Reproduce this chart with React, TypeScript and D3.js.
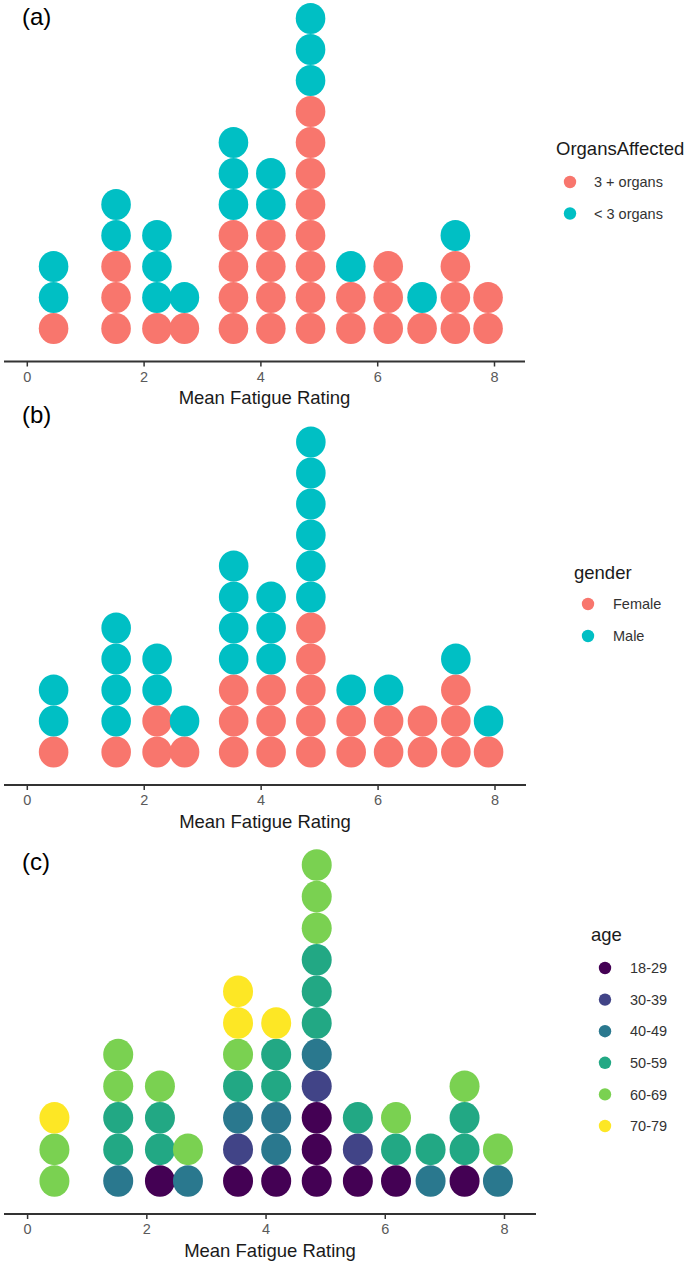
import React from "react";
import * as d3 from "d3";

// ---- data ----
const fatigueBins = [0.45, 1.52, 2.22, 2.69, 3.53, 4.17, 4.85, 5.54, 6.18, 6.76, 7.33, 7.89];
const xTicks = [0, 2, 4, 6, 8];

const organsLevels = ["3 + organs", "< 3 organs"];
const organs3Plus = [1, 3, 1, 1, 4, 4, 8, 2, 3, 1, 3, 2];
const organsUnder3 = [2, 2, 3, 1, 3, 2, 3, 1, 0, 1, 1, 0];

const genderLevels = ["Female", "Male"];
const genderFemale = [1, 1, 2, 1, 3, 3, 5, 2, 2, 2, 3, 1];
const genderMale = [2, 4, 2, 1, 4, 3, 6, 1, 1, 0, 1, 1];

const ageLevels = ["18-29", "30-39", "40-49", "50-59", "60-69", "70-79"];
const age18_29 = [0, 0, 1, 0, 1, 1, 3, 1, 1, 0, 1, 0];
const age30_39 = [0, 0, 0, 0, 1, 0, 1, 1, 0, 0, 0, 0];
const age40_49 = [0, 1, 0, 1, 1, 2, 1, 0, 0, 1, 0, 1];
const age50_59 = [0, 2, 2, 0, 1, 2, 3, 1, 1, 1, 2, 0];
const age60_69 = [2, 2, 1, 1, 1, 0, 3, 0, 1, 0, 1, 1];
const age70_79 = [1, 0, 0, 0, 2, 1, 0, 0, 0, 0, 0, 0];

const hueColors = ["#F8766D", "#00BFC4"];
const viridisColors = ["#440154", "#414487", "#2A788E", "#22A884", "#7AD151", "#FDE725"];

const FONT = "'Liberation Sans', Arial, Helvetica, sans-serif";

type PanelCfg = {
  tag: string;
  tagY: number;
  axisY: number;
  x0: number;
  x8: number;
  lineX1: number;
  lineX2: number;
  step: number;
  rx: number;
  legendTitle: string;
  legendX: number;
  legendTitleY: number;
  legendKeyDX: number;
  legendTextDX: number;
  legendFirstY: number;
  legendStep: number;
  levels: string[];
  series: number[][];
  colors: string[];
};

function buildDots(series: number[][]) {
  const dots: { bin: number; idx: number; level: number }[] = [];
  fatigueBins.forEach((b, bi) => {
    let idx = 0;
    series.forEach((s, li) => {
      for (let k = 0; k < s[bi]; k++) {
        dots.push({ bin: b, idx, level: li });
        idx++;
      }
    });
  });
  return dots;
}

function Panel({ cfg }: { cfg: PanelCfg }) {
  const x = d3.scaleLinear().domain([0, 8]).range([cfg.x0, cfg.x8]);
  const bottom = cfg.axisY - 33;
  const y = d3.scaleLinear().domain([0, 1]).range([bottom, bottom - cfg.step]);
  const dots = buildDots(cfg.series);
  const ry = cfg.step / 2;
  return (
    <g>
      <text x={22} y={cfg.tagY} fontSize={24} fontFamily={FONT} fill="#000">
        {cfg.tag}
      </text>
      {dots.map((d, i) => (
        <ellipse
          key={i}
          cx={x(d.bin)}
          cy={y(d.idx)}
          rx={cfg.rx}
          ry={ry}
          fill={cfg.colors[d.level]}
        />
      ))}
      <line x1={cfg.lineX1} x2={cfg.lineX2} y1={cfg.axisY} y2={cfg.axisY} stroke="#333" strokeWidth={2} />
      {xTicks.map((t) => (
        <g key={t}>
          <line x1={x(t)} x2={x(t)} y1={cfg.axisY} y2={cfg.axisY + 5} stroke="#333" strokeWidth={1.5} />
          <text
            x={x(t)}
            y={cfg.axisY + 20}
            textAnchor="middle"
            fontSize={14.5}
            fontFamily={FONT}
            fill="#5a5a5a"
          >
            {t}
          </text>
        </g>
      ))}
      <text
        x={(cfg.lineX1 + cfg.lineX2) / 2}
        y={cfg.axisY + 42.5}
        textAnchor="middle"
        fontSize={18.5}
        fontFamily={FONT}
        fill="#1a1a1a"
      >
        Mean Fatigue Rating
      </text>
      <text x={cfg.legendX} y={cfg.legendTitleY} fontSize={18.5} fontFamily={FONT} fill="#1a1a1a">
        {cfg.legendTitle}
      </text>
      {cfg.levels.map((lv, i) => {
        const ly = cfg.legendFirstY + i * cfg.legendStep;
        return (
          <g key={lv}>
            <circle cx={cfg.legendX + cfg.legendKeyDX} cy={ly} r={6.2} fill={cfg.colors[i]} />
            <text
              x={cfg.legendX + cfg.legendTextDX}
              y={ly + 5.2}
              fontSize={14.5}
              fontFamily={FONT}
              fill="#333"
            >
              {lv}
            </text>
          </g>
        );
      })}
    </g>
  );
}

const panels: PanelCfg[] = [
  {
    tag: "(a)",
    tagY: 25,
    axisY: 361.5,
    x0: 27.3,
    x8: 494.5,
    lineX1: 4,
    lineX2: 525,
    step: 31,
    rx: 14.8,
    legendTitle: "OrgansAffected",
    legendX: 556,
    legendTitleY: 154.5,
    legendKeyDX: 14,
    legendTextDX: 38,
    legendFirstY: 182,
    legendStep: 31.5,
    levels: organsLevels,
    series: [organs3Plus, organsUnder3],
    colors: hueColors,
  },
  {
    tag: "(b)",
    tagY: 423,
    axisY: 785,
    x0: 27.3,
    x8: 495,
    lineX1: 4,
    lineX2: 526,
    step: 31,
    rx: 14.8,
    legendTitle: "gender",
    legendX: 574,
    legendTitleY: 578.5,
    legendKeyDX: 14,
    legendTextDX: 39,
    legendFirstY: 604,
    legendStep: 32,
    levels: genderLevels,
    series: [genderFemale, genderMale],
    colors: hueColors,
  },
  {
    tag: "(c)",
    tagY: 870,
    axisY: 1214,
    x0: 27.6,
    x8: 504.5,
    lineX1: 4,
    lineX2: 536,
    step: 31.6,
    rx: 15,
    legendTitle: "age",
    legendX: 591,
    legendTitleY: 940.5,
    legendKeyDX: 14,
    legendTextDX: 39,
    legendFirstY: 968,
    legendStep: 31.6,
    levels: ageLevels,
    series: [age18_29, age30_39, age40_49, age50_59, age60_69, age70_79],
    colors: viridisColors,
  },
];

export default function App() {
  return (
    <svg
      width={684}
      height={1266}
      style={{ position: "absolute", left: 0, top: 0, display: "block", background: "#fff" }}
    >
      <rect x={0} y={0} width={684} height={1266} fill="#fff" />
      {panels.map((p) => (
        <Panel key={p.tag} cfg={p} />
      ))}
    </svg>
  );
}
